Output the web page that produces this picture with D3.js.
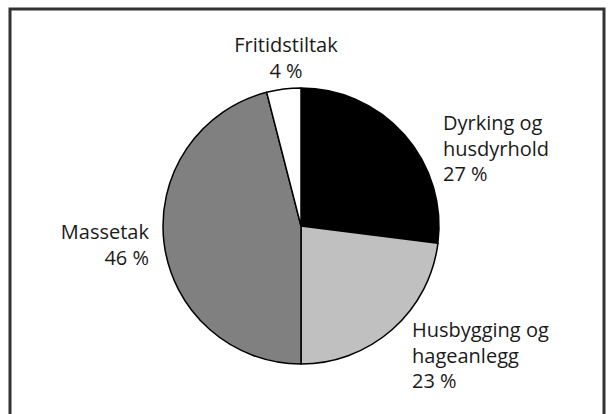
<!DOCTYPE html>
<meta charset="utf-8">
<head>
  <meta charset="utf-8">
  <title>pie chart</title>
  <script src="https://d3js.org/d3.v7.min.js"></script>
</head>
<style>
body {margin:0; background:#fff;}
.label {
  font-family: "Open Sans", sans-serif;
  font-size: 20px;
  fill: #1a1a1a;
}
</style>
<body>
<script>

// data
var categories = ["Dyrking og husdyrhold", "Husbygging og hageanlegg", "Massetak", "Fritidstiltak"];
var values = [27, 23, 46, 4];
var labelLines = [
  ["Dyrking og", "husdyrhold", "27 %"],
  ["Husbygging og", "hageanlegg", "23 %"],
  ["Massetak", "46 %"],
  ["Fritidstiltak", "4 %"]
];
var colors = ["#000000", "#c0c0c0", "#808080", "#ffffff"];

// where each label block goes (x, first baseline, anchor)
var labelPos = [
  {x: 443, y: 130, anchor: "start"},
  {x: 412, y: 337, anchor: "start"},
  {x: 149, y: 239, anchor: "end"},
  {x: 286, y: 52, anchor: "middle"}
];

var width = 611, height = 414;
var cx = 301, cy = 226, radius = 138;

var svg = d3.select("body").append("svg")
    .attr("width", width)
    .attr("height", height);

// frame
svg.append("rect")
    .attr("x", 10)
    .attr("y", 9)
    .attr("width", 594)
    .attr("height", 430)
    .attr("fill", "none")
    .attr("stroke", "#333")
    .attr("stroke-width", 3);

var pie = d3.pie().sort(null);
var arc = d3.arc().innerRadius(0).outerRadius(radius);

var g = svg.append("g")
    .attr("transform", "translate(" + cx + "," + cy + ")");

g.selectAll("path")
    .data(pie(values))
  .enter().append("path")
    .attr("d", arc)
    .attr("fill", function(d, i) { return colors[i]; })
    .attr("stroke", "#000")
    .attr("stroke-width", 1.5)
    .attr("stroke-linejoin", "round");

// labels
labelLines.forEach(function(lines, i) {
  var p = labelPos[i];
  var t = svg.append("text")
      .attr("class", "label")
      .attr("text-anchor", p.anchor);
  lines.forEach(function(s, j) {
    t.append("tspan")
      .attr("x", p.x)
      .attr("y", p.y + j * 25.5)
      .text(s);
  });
});

</script>
</body>
